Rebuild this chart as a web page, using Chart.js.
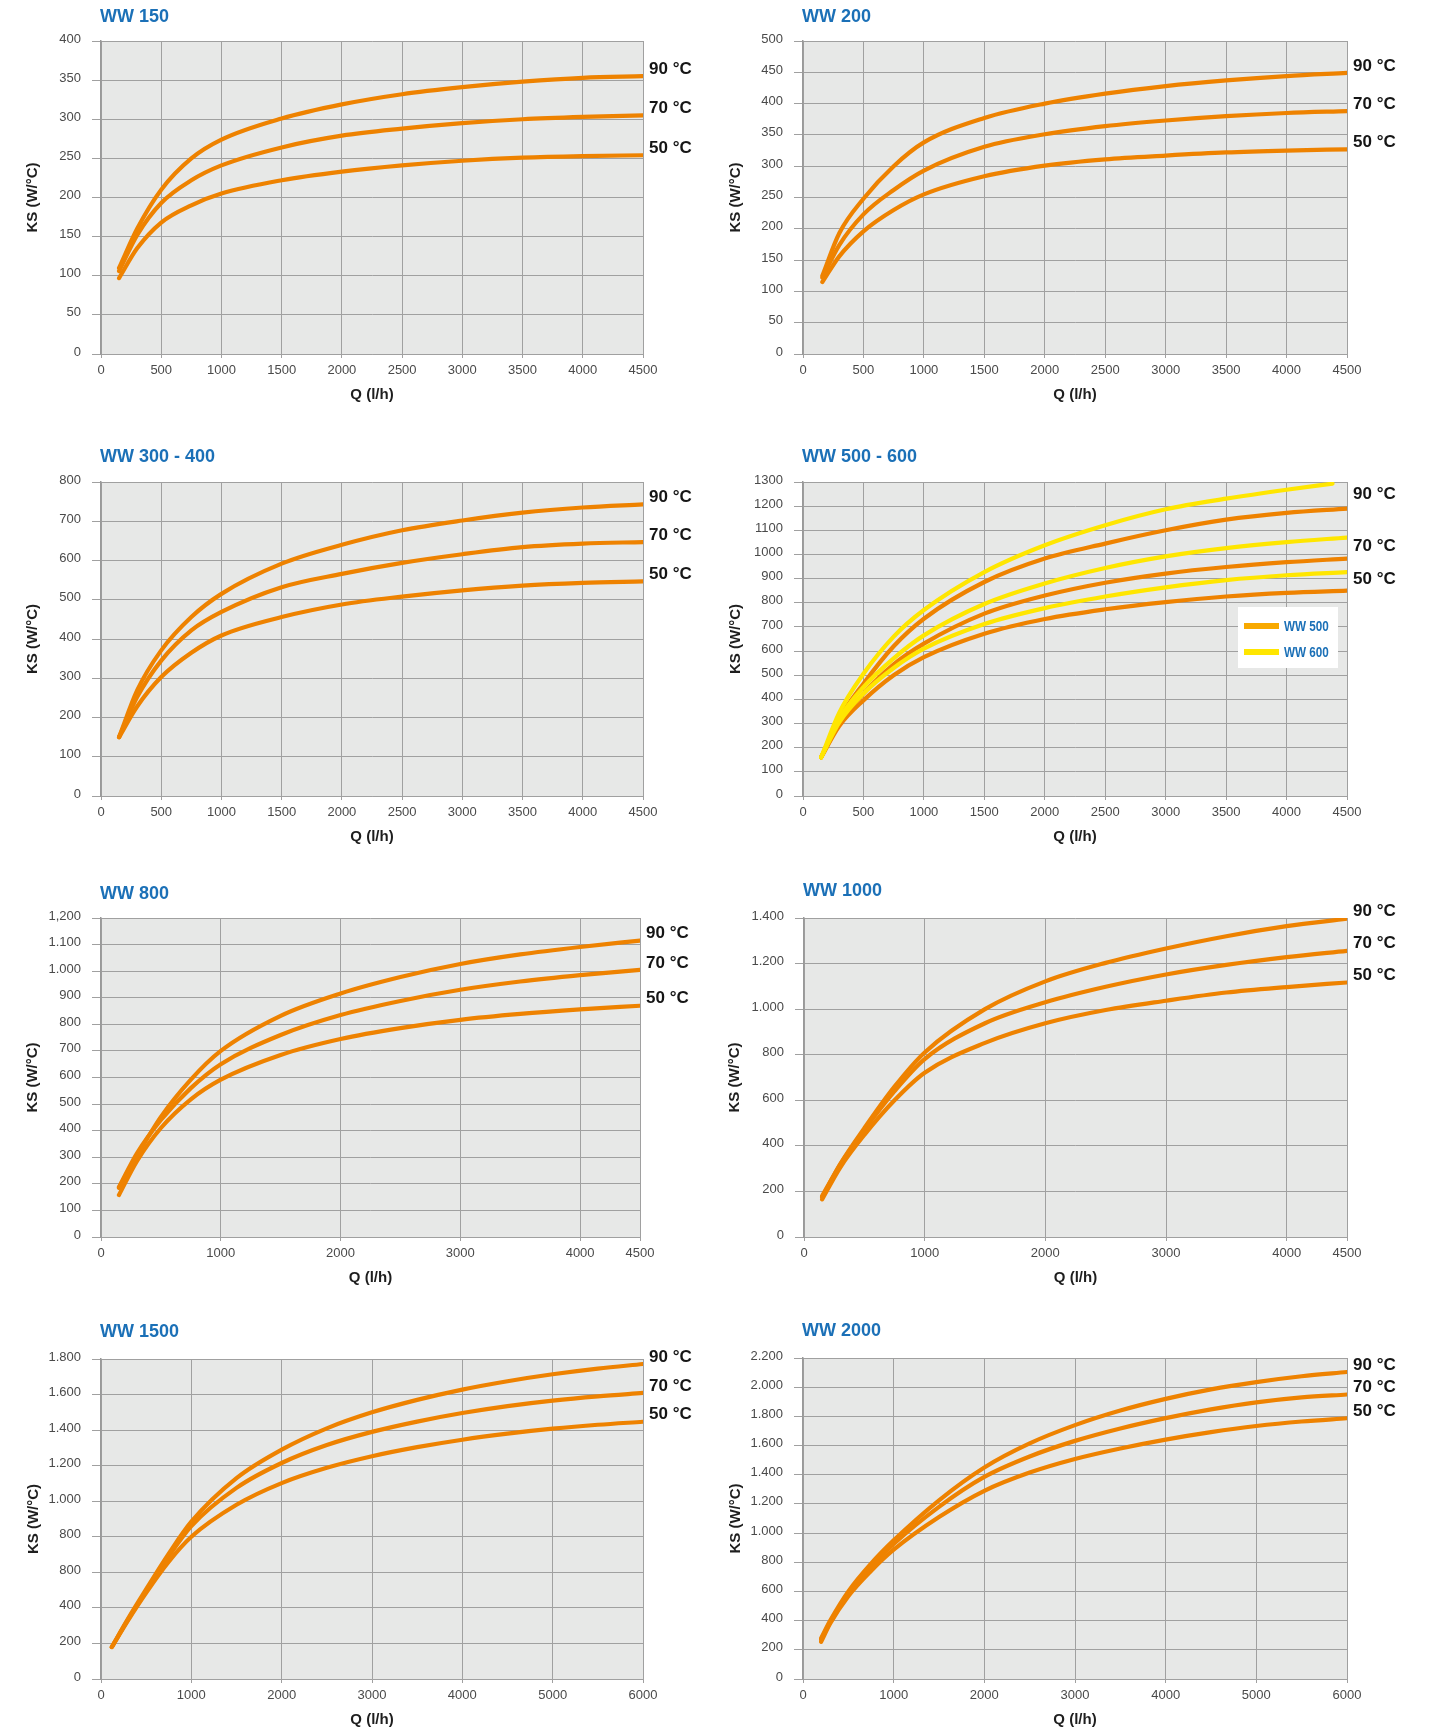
<!DOCTYPE html>
<html><head><meta charset="utf-8">
<script src="https://cdn.jsdelivr.net/npm/chart.js@4/dist/chart.umd.min.js"></script>
<style>
html,body{margin:0;padding:0;background:#fff;}
body{width:1430px;height:1736px;position:relative;overflow:hidden;}
canvas{position:absolute;}
</style></head><body>
<canvas id="c1"></canvas><canvas id="c2"></canvas><canvas id="c3"></canvas><canvas id="c4"></canvas>
<canvas id="c5"></canvas><canvas id="c6"></canvas><canvas id="c7"></canvas><canvas id="c8"></canvas>
<script>
// ---------- DATA ----------
const tempLabels = ['90 °C', '70 °C', '50 °C'];
const xTitle = 'Q (l/h)';
const yTitle = 'KS (W/°C)';
const legendLabels = ['WW 500', 'WW 600'];

// WW 150
const ww150_q  = [150, 300, 500, 750, 1000, 1500, 2000, 2500, 3000, 3500, 4000, 4500];
const ww150_90 = [110, 160, 210, 250, 274, 301, 319, 332, 341, 348, 353, 355];
const ww150_70 = [106, 152, 193, 222, 241, 264, 279, 288, 295, 300, 303, 305];
const ww150_50 = [97, 135, 168, 190, 205, 222, 233, 241, 247, 251, 253, 254];
const ww150_xticks = [0, 500, 1000, 1500, 2000, 2500, 3000, 3500, 4000, 4500];
const ww150_yticks = [0, 50, 100, 150, 200, 250, 300, 350, 400];
const ww150_ylabels = ['0', '50', '100', '150', '200', '250', '300', '350', '400'];

// WW 200
const ww200_q  = [160, 300, 500, 750, 1000, 1500, 2000, 2500, 3000, 3500, 4000, 4500];
const ww200_90 = [125, 193, 248, 300, 338, 377, 400, 416, 428, 437, 444, 449];
const ww200_70 = [122, 174, 223, 262, 293, 331, 351, 364, 373, 380, 385, 388];
const ww200_50 = [115, 156, 196, 230, 255, 284, 301, 311, 317, 322, 325, 327];
const ww200_xticks = [0, 500, 1000, 1500, 2000, 2500, 3000, 3500, 4000, 4500];
const ww200_yticks = [0, 50, 100, 150, 200, 250, 300, 350, 400, 450, 500];
const ww200_ylabels = ['0', '50', '100', '150', '200', '250', '300', '350', '400', '450', '500'];

// WW 300 - 400
const ww300_q  = [150, 300, 500, 750, 1000, 1500, 2000, 2500, 3000, 3500, 4000, 4500];
const ww300_90 = [150, 269, 371, 456, 515, 592, 640, 677, 702, 722, 735, 743];
const ww300_70 = [150, 252, 345, 422, 469, 532, 566, 594, 616, 634, 643, 647];
const ww300_50 = [150, 228, 303, 365, 409, 456, 488, 508, 524, 536, 543, 547];
const ww300_xticks = [0, 500, 1000, 1500, 2000, 2500, 3000, 3500, 4000, 4500];
const ww300_yticks = [0, 100, 200, 300, 400, 500, 600, 700, 800];
const ww300_ylabels = ['0', '100', '200', '300', '400', '500', '600', '700', '800'];

// WW 500 - 600
const ww500_q  = [150, 300, 500, 750, 1000, 1500, 2000, 2500, 3000, 3500, 4000, 4500];
const ww500_90 = [160, 320, 465, 620, 734, 886, 983, 1045, 1100, 1144, 1172, 1190];
const ww500_70 = [160, 300, 424, 545, 631, 755, 830, 883, 921, 948, 968, 983];
const ww500_50 = [160, 290, 396, 500, 575, 672, 733, 773, 803, 826, 841, 850];
const ww600_q90 = [150, 300, 500, 750, 1000, 1500, 2000, 2500, 3000, 3500, 4000, 4380];
const ww600_q  = [150, 300, 500, 750, 1000, 1500, 2000, 2500, 3000, 3500, 4000, 4500];
const ww600_90 = [160, 345, 506, 660, 770, 927, 1038, 1121, 1187, 1231, 1268, 1293];
const ww600_70 = [160, 320, 451, 570, 665, 795, 880, 944, 992, 1026, 1051, 1070];
const ww600_50 = [160, 305, 424, 530, 610, 712, 778, 826, 864, 894, 914, 927];
const ww500_xticks = [0, 500, 1000, 1500, 2000, 2500, 3000, 3500, 4000, 4500];
const ww500_yticks = [0, 100, 200, 300, 400, 500, 600, 700, 800, 900, 1000, 1100, 1200, 1300];
const ww500_ylabels = ['0', '100', '200', '300', '400', '500', '600', '700', '800', '900', '1000', '1100', '1200', '1300'];

// WW 800
const ww800_q  = [150, 300, 500, 750, 1000, 1500, 2000, 2500, 3000, 3500, 4000, 4500];
const ww800_90 = [185, 305, 452, 592, 700, 832, 916, 978, 1027, 1063, 1091, 1115];
const ww800_70 = [188, 315, 440, 560, 650, 760, 835, 888, 930, 961, 985, 1005];
const ww800_50 = [158, 285, 410, 518, 592, 685, 745, 786, 817, 839, 856, 870];
const ww800_xticks = [0, 1000, 2000, 3000, 4000, 4500];
const ww800_yticks = [0, 100, 200, 300, 400, 500, 600, 700, 800, 900, 1000, 1100, 1200];
const ww800_ylabels = ['0', '100', '200', '300', '400', '500', '600', '700', '800', '900', '1.000', '1.100', '1,200'];

// WW 1000
const ww1000_q  = [150, 300, 500, 750, 1000, 1500, 2000, 2500, 3000, 3500, 4000, 4500];
const ww1000_90 = [175, 320, 478, 660, 810, 1000, 1122, 1203, 1266, 1320, 1364, 1397];
const ww1000_70 = [180, 318, 470, 640, 781, 938, 1030, 1098, 1152, 1194, 1228, 1256];
const ww1000_50 = [165, 305, 448, 600, 721, 852, 938, 996, 1037, 1073, 1097, 1117];
const ww1000_xticks = [0, 1000, 2000, 3000, 4000, 4500];
const ww1000_yticks = [0, 200, 400, 600, 800, 1000, 1200, 1400];
const ww1000_ylabels = ['0', '200', '400', '600', '800', '1.000', '1.200', '1.400'];

// WW 1500
const ww1500_q  = [120, 300, 500, 750, 1000, 1500, 2000, 2500, 3000, 3500, 4000, 4500, 5000, 5500, 6000];
const ww1500_90 = [180, 340, 505, 705, 885, 1130, 1290, 1410, 1500, 1570, 1628, 1675, 1714, 1746, 1772];
const ww1500_70 = [180, 335, 495, 690, 860, 1075, 1215, 1316, 1390, 1448, 1496, 1535, 1566, 1590, 1609];
const ww1500_50 = [180, 330, 485, 660, 800, 980, 1102, 1188, 1253, 1304, 1346, 1380, 1408, 1430, 1447];
const ww1500_xticks = [0, 1000, 2000, 3000, 4000, 5000, 6000];
const ww1500_yticks = [0, 200, 400, 600, 800, 1000, 1200, 1400, 1600, 1800];
const ww1500_ylabels = ['0', '200', '400', '800', '800', '1.000', '1.200', '1.400', '1.600', '1.800'];

// WW 2000
const ww2000_q  = [200, 300, 500, 750, 1000, 1500, 2000, 2500, 3000, 3500, 4000, 4500, 5000, 5500, 6000];
const ww2000_90 = [280, 400, 600, 790, 950, 1225, 1450, 1615, 1740, 1840, 1920, 1985, 2035, 2075, 2104];
const ww2000_70 = [270, 390, 580, 765, 925, 1180, 1385, 1525, 1632, 1717, 1788, 1848, 1896, 1930, 1950];
const ww2000_50 = [255, 380, 567, 740, 886, 1110, 1290, 1415, 1508, 1580, 1641, 1692, 1734, 1765, 1787];
const ww2000_xticks = [0, 1000, 2000, 3000, 4000, 5000, 6000];
const ww2000_yticks = [0, 200, 400, 600, 800, 1000, 1200, 1400, 1600, 1800, 2000, 2200];
const ww2000_ylabels = ['0', '200', '400', '600', '800', '1.000', '1.200', '1.400', '1.600', '1.800', '2.000', '2.200'];

// ---------- STYLE / LAYOUT ----------
const ORANGE = '#ee8200';
const YELLOW = '#ffe600';
const LEG_ORANGE = '#f8a900';
const BLUE = '#1b70b7';
const GRID = '#a0a0a0';
const PLOTBG = '#e7e8e7';
const TICKFONT = '"Liberation Sans", Arial, sans-serif';
const MAINFONT = '"Liberation Sans", Arial, sans-serif';

function orangeSet(q, a, b, c) {
  return [
    {q: q, v: a, color: ORANGE, temp: 0},
    {q: q, v: b, color: ORANGE, temp: 1},
    {q: q, v: c, color: ORANGE, temp: 2}
  ];
}

const panels = [
  {id: 'c1', title: 'WW 150', box: [0, 0, 715, 430], plot: [101, 41, 643, 354], titleY: 17, yTitleX: 33,
   xmax: 4500, xticks: ww150_xticks, yticks: ww150_yticks, ylabels: ww150_ylabels, labelDy: -7,
   series: orangeSet(ww150_q, ww150_90, ww150_70, ww150_50)},
  {id: 'c2', title: 'WW 200', box: [715, 0, 715, 430], plot: [803, 41, 1347, 354], titleY: 17, yTitleX: 736,
   xmax: 4500, xticks: ww200_xticks, yticks: ww200_yticks, ylabels: ww200_ylabels, labelDy: -7,
   series: orangeSet(ww200_q, ww200_90, ww200_70, ww200_50)},
  {id: 'c3', title: 'WW 300 - 400', box: [0, 430, 715, 440], plot: [101, 482, 643, 796], titleY: 457, yTitleX: 33,
   xmax: 4500, xticks: ww300_xticks, yticks: ww300_yticks, ylabels: ww300_ylabels, labelDy: -7,
   series: orangeSet(ww300_q, ww300_90, ww300_70, ww300_50)},
  {id: 'c4', title: 'WW 500 - 600', box: [715, 430, 715, 440], plot: [803, 482, 1347, 796], titleY: 457, yTitleX: 736,
   xmax: 4500, xticks: ww500_xticks, yticks: ww500_yticks, ylabels: ww500_ylabels, labelDy: -2, legend: true,
   series: [
     {q: ww600_q90, v: ww600_90, color: YELLOW, temp: 0, name: 'WW 600'},
     {q: ww600_q, v: ww600_70, color: YELLOW, temp: 1, name: 'WW 600'},
     {q: ww600_q, v: ww600_50, color: YELLOW, temp: 2, name: 'WW 600'},
     {q: ww500_q, v: ww500_90, color: ORANGE, temp: 0, name: 'WW 500'},
     {q: ww500_q, v: ww500_70, color: ORANGE, temp: 1, name: 'WW 500'},
     {q: ww500_q, v: ww500_50, color: ORANGE, temp: 2, name: 'WW 500'}
   ]},
  {id: 'c5', title: 'WW 800', box: [0, 870, 715, 440], plot: [101, 918, 640, 1237], titleY: 894, yTitleX: 33,
   xmax: 4500, xticks: ww800_xticks, yticks: ww800_yticks, ylabels: ww800_ylabels, labelDy: -7,
   series: orangeSet(ww800_q, ww800_90, ww800_70, ww800_50)},
  {id: 'c6', title: 'WW 1000', box: [715, 870, 715, 440], plot: [804, 918, 1347, 1237], titleY: 891, yTitleX: 735,
   xmax: 4500, xticks: ww1000_xticks, yticks: ww1000_yticks, ylabels: ww1000_ylabels, labelDy: -7,
   series: orangeSet(ww1000_q, ww1000_90, ww1000_70, ww1000_50)},
  {id: 'c7', title: 'WW 1500', box: [0, 1310, 715, 426], plot: [101, 1359, 643, 1679], titleY: 1332, yTitleX: 34,
   xmax: 6000, xticks: ww1500_xticks, yticks: ww1500_yticks, ylabels: ww1500_ylabels, labelDy: -7,
   series: orangeSet(ww1500_q, ww1500_90, ww1500_70, ww1500_50)},
  {id: 'c8', title: 'WW 2000', box: [715, 1310, 715, 426], plot: [803, 1358, 1347, 1679], titleY: 1331, yTitleX: 736,
   xmax: 6000, xticks: ww2000_xticks, yticks: ww2000_yticks, ylabels: ww2000_ylabels, labelDy: -7,
   series: orangeSet(ww2000_q, ww2000_90, ww2000_70, ww2000_50)}
];

const deco = {
  id: 'deco',
  beforeDraw(chart, args, opts) {
    const a = chart.chartArea, ctx = chart.ctx;
    ctx.save();
    ctx.fillStyle = PLOTBG;
    ctx.fillRect(a.left, a.top, a.right - a.left, a.bottom - a.top);
    ctx.restore();
  },
  afterDraw(chart, args, opts) {
    const p = opts.panel, a = chart.chartArea, ctx = chart.ctx, ys = chart.scales.y;
    const bx = p.box[0], by = p.box[1];
    ctx.save();
    // title
    ctx.font = 'bold 18px ' + MAINFONT;
    ctx.fillStyle = BLUE;
    ctx.textAlign = 'left';
    ctx.textBaseline = 'middle';
    ctx.fillText(p.title, a.left - 1, p.titleY - by);
    // axis titles
    ctx.font = 'bold 15px ' + MAINFONT;
    ctx.fillStyle = '#1e1e1e';
    ctx.textAlign = 'center';
    ctx.fillText(xTitle, (a.left + a.right) / 2, a.bottom + 41);
    ctx.save();
    ctx.translate(p.yTitleX - bx, (a.top + a.bottom) / 2);
    ctx.rotate(-Math.PI / 2);
    ctx.fillText(yTitle, 0, 0);
    ctx.restore();
    // temperature labels
    ctx.font = 'bold 17px ' + MAINFONT;
    ctx.fillStyle = '#151515';
    ctx.textAlign = 'left';
    for (let t = 0; t < tempLabels.length; t++) {
      const ends = p.series.filter(s => s.temp === t).map(s => ys.getPixelForValue(s.v[s.v.length - 1]));
      if (!ends.length) continue;
      const yy = ends.reduce((u, w) => u + w, 0) / ends.length + p.labelDy;
      ctx.fillText(tempLabels[t], a.right + 6, yy);
    }
    // legend
    if (p.legend) {
      const lx = a.right - 109, ly = a.top + 125;
      ctx.fillStyle = '#ffffff';
      ctx.fillRect(lx, ly, 100, 61);
      const cols = [LEG_ORANGE, YELLOW];
      ctx.font = 'bold 15px ' + MAINFONT;
      for (let i = 0; i < legendLabels.length; i++) {
        const yy = ly + 19 + i * 26;
        ctx.fillStyle = cols[i];
        ctx.fillRect(lx + 6, yy - 3, 35, 6);
        ctx.fillStyle = BLUE;
        ctx.save();
        ctx.translate(lx + 46, yy + 1);
        ctx.scale(0.78, 1);
        ctx.fillText(legendLabels[i], 0, 0);
        ctx.restore();
      }
    }
    ctx.restore();
  }
};

panels.forEach(p => {
  const cv = document.getElementById(p.id);
  cv.width = p.box[2];
  cv.height = p.box[3];
  cv.style.left = p.box[0] + 'px';
  cv.style.top = p.box[1] + 'px';
  const bx = p.box[0], by = p.box[1];
  const yAxisW = p.plot[0] - bx;
  const xAxisH = by + p.box[3] - p.plot[3];
  const padTop = p.plot[1] - by;
  const padRight = bx + p.box[2] - p.plot[2];
  const datasets = p.series.map(s => ({
    label: (s.name ? s.name + ' ' : '') + tempLabels[s.temp],
    data: s.q.map((x, i) => ({x: x, y: s.v[i]})),
    borderColor: s.color,
    borderWidth: 4.2,
    pointRadius: 0,
    fill: false,
    cubicInterpolationMode: 'monotone',
    borderCapStyle: 'round',
    borderJoinStyle: 'round'
  }));
  new Chart(cv, {
    type: 'line',
    data: {datasets: datasets},
    options: {
      responsive: false,
      animation: false,
      events: [],
      layout: {padding: {top: padTop, right: padRight, left: 0, bottom: 0}},
      plugins: {legend: {display: false}, tooltip: {enabled: false}, title: {display: false}, deco: {panel: p}},
      scales: {
        x: {
          type: 'linear', min: 0, max: p.xmax,
          afterBuildTicks: sc => { sc.ticks = p.xticks.map(v => ({value: v})); },
          afterFit: sc => { sc.height = xAxisH; },
          ticks: {autoSkip: false, maxRotation: 0, padding: 5, color: '#4a4a4a',
                  font: {family: TICKFONT, size: 13}, callback: v => String(v)},
          grid: {color: GRID, lineWidth: 1, tickLength: 4, drawTicks: true},
          border: {display: true, color: GRID, width: 1}
        },
        y: {
          type: 'linear', min: 0, max: p.yticks[p.yticks.length - 1],
          afterBuildTicks: sc => { sc.ticks = p.yticks.map(v => ({value: v})); },
          afterFit: sc => { sc.width = yAxisW; },
          ticks: {autoSkip: false, padding: 11, labelOffset: -2, color: '#4a4a4a',
                  font: {family: TICKFONT, size: 13},
                  callback: (v, i) => p.ylabels[p.yticks.indexOf(v)]},
          grid: {color: GRID, lineWidth: 1, tickLength: 9, drawTicks: true},
          border: {display: true, color: '#999999', width: 1.5}
        }
      }
    },
    plugins: [deco]
  });
});
</script>
</body></html>
